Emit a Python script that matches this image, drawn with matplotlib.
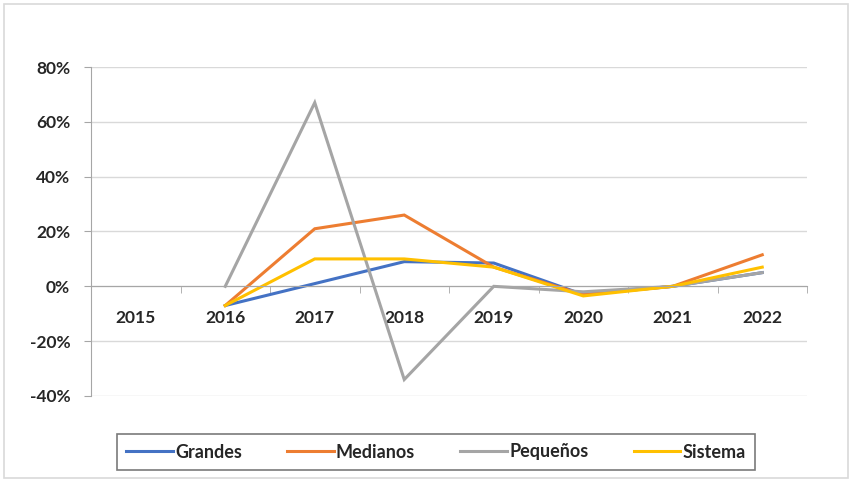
import matplotlib
matplotlib.use("Agg")
import matplotlib.pyplot as plt
from matplotlib.patches import Rectangle
from matplotlib.ticker import FuncFormatter, FixedLocator

years = ["2015", "2016", "2017", "2018", "2019", "2020", "2021", "2022"]
grandes = [None, -7, 1, 9, 8.5, -3, 0, 5]
medianos = [None, -7, 21, 26, 7, -3, 0, 11.5]
pequenos = [None, 0, 67, -34, 0, -2, 0, 5]
sistema = [None, -7, 10, 10, 7, -3.5, 0, 7]

series = [
    ("Grandes", grandes, "#4472C4"),
    ("Medianos", medianos, "#ED7D31"),
    ("Pequeños", pequenos, "#A5A5A5"),
    ("Sistema", sistema, "#FFC000"),
]

plt.rcParams['font.family'] = ['Lato', 'DejaVu Sans']

fig = plt.figure(figsize=(8.52, 4.82), dpi=100)
ax = fig.add_axes([91 / 852, 1 - 396 / 482, (807 - 91) / 852, (396 - 67) / 482])

x = list(range(len(years)))
for name, vals, color in series:
    xs = [i for i, v in zip(x, vals) if v is not None]
    ys = [v for v in vals if v is not None]
    ax.plot(xs, ys, color=color, lw=2.2, label=name, solid_joinstyle='miter')

ax.set_xlim(-0.5, len(years) - 0.5)
ax.set_ylim(-40, 80)
ax.set_yticks(range(-40, 81, 20))
ax.yaxis.set_major_formatter(FuncFormatter(lambda v, p: f"{v:.0f}%"))
ax.grid(axis='y', color='#D9D9D9', lw=1)
ax.set_axisbelow(True)

ax.spines['top'].set_visible(False)
ax.spines['right'].set_visible(False)
ax.spines['left'].set_color('#A6A6A6')
ax.spines['bottom'].set_color('#A6A6A6')
ax.spines['bottom'].set_position(('data', 0))

ax.set_xticks(x)
ax.set_xticklabels(years)
ax.xaxis.set_minor_locator(FixedLocator([i - 0.5 for i in range(len(years) + 1)]))
ax.tick_params(axis='x', which='major', length=0, pad=17, labelsize=12.5, labelcolor='#262626')
ax.tick_params(axis='x', which='minor', length=5, color='#A6A6A6', direction='out')
ax.tick_params(axis='y', length=5, color='#A6A6A6', labelsize=12.5, labelcolor='#262626', pad=10)
for lbl in ax.get_xticklabels() + ax.get_yticklabels():
    lbl.set_fontweight('bold')

leg = fig.legend(loc='center', bbox_to_anchor=(436 / 852, 1 - 452 / 482), ncol=4,
                 frameon=True, fancybox=False, edgecolor='#595959', fontsize=13,
                 handlelength=2.6, handletextpad=0.1, columnspacing=2.5,
                 borderpad=0.5)
leg.get_frame().set_linewidth(1.2)
for t in leg.get_texts():
    t.set_color('#262626')
    t.set_fontweight('bold')

fig.patches.append(Rectangle((4 / 852, 4 / 482), 844 / 852, 474 / 482,
                             transform=fig.transFigure, fill=False,
                             edgecolor='#D9D9D9', lw=1.2))

fig.savefig("out.png", dpi=100)
